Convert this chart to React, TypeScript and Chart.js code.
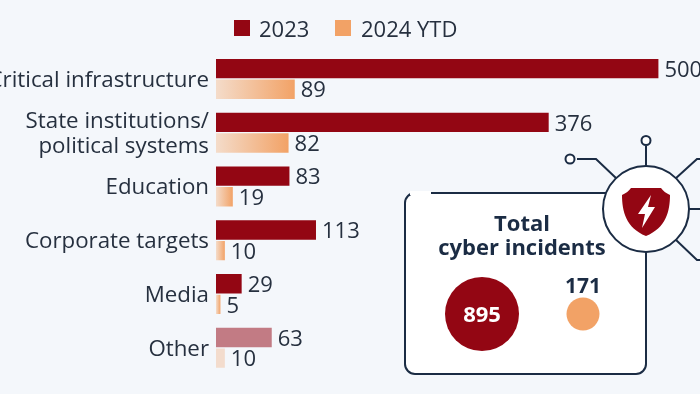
import React, { useEffect, useRef } from "react";
import { Chart, registerables } from "chart.js";

Chart.register(...registerables);

const categories: (string | string[])[] = [
  "Critical infrastructure",
  ["State institutions/", "political systems"],
  "Education",
  "Corporate targets",
  "Media",
  "Other",
];
const values2023 = [500, 376, 83, 113, 29, 63];
const values2024 = [89, 82, 19, 10, 5, 10];
const seriesNames = ["2023", "2024 YTD"];
const totals = [895, 171];

const FONT = '"Open Sans", sans-serif';
const INK = "#26303f";
const NAVY = "#1b2c44";
const RED = "#930613";
const ORANGE = "#f2a266";
const BG = "#f4f7fb";

const barColor2023 = (ctx: any) => (ctx.dataIndex === 5 ? "#c27b84" : RED);
const barColor2024 = (ctx: any) => {
  const { chart, dataIndex, parsed } = ctx;
  if (dataIndex === 5) return "#f3dccd";
  const xs = chart.scales.x;
  if (!xs || !parsed) return ORANGE;
  const x0 = xs.getPixelForValue(0);
  const x1 = xs.getPixelForValue(parsed.x);
  if (!Number.isFinite(x0) || !Number.isFinite(x1)) return ORANGE;
  const g = chart.ctx.createLinearGradient(x0, 0, x1, 0);
  g.addColorStop(0, "#f4dcca");
  g.addColorStop(1, ORANGE);
  return g;
};

const annotate = {
  id: "annotate",
  afterDatasetsDraw(chart: any) {
    const c = chart.ctx;
    c.save();
    c.font = `22px ${FONT}`;
    c.fillStyle = INK;
    c.textAlign = "left";
    c.textBaseline = "middle";
    chart.data.datasets.forEach((ds: any, i: number) => {
      chart.getDatasetMeta(i).data.forEach((bar: any, j: number) => {
        c.fillText(String(ds.data[j]), bar.x + 6, bar.y + 2);
      });
    });
    const boxX = [234, 335];
    const textX = [259, 361];
    chart.data.datasets.forEach((ds: any, i: number) => {
      c.fillStyle = i === 0 ? RED : ORANGE;
      c.fillRect(boxX[i], 20, 16, 16);
      c.fillStyle = INK;
      c.fillText(ds.label, textX[i], 30.5);
    });
    c.restore();
  },
};

export default function App() {
  const ref = useRef<HTMLCanvasElement>(null);
  useEffect(() => {
    document.body.style.margin = "0";
    document.body.style.background = BG;
    const chart = new Chart(ref.current!, {
      type: "bar",
      data: {
        labels: categories as any,
        datasets: [
          { label: seriesNames[0], data: values2023, backgroundColor: barColor2023 },
          { label: seriesNames[1], data: values2024, backgroundColor: barColor2024 },
        ],
      },
      plugins: [annotate],
      options: {
        indexAxis: "y",
        animation: false,
        responsive: false,
        layout: { padding: { top: 52, bottom: 17, left: 0, right: 0 } },
        datasets: { bar: { categoryPercentage: 0.766, barPercentage: 0.94 } },
        plugins: { legend: { display: false }, tooltip: { enabled: false } },
        scales: {
          x: { display: false, min: 0, max: 547 },
          y: {
            afterFit: (s: any) => { s.width = 216; },
            grid: { display: false, drawTicks: false },
            border: { display: false },
            ticks: {
              color: INK,
              padding: 7,
              labelOffset: 1.5,
              autoSkip: false,
              font: { family: "Open Sans", size: 22.3, lineHeight: 1.1 },
            },
          },
        },
      } as any,
    });
    return () => chart.destroy();
  }, []);

  return (
    <div style={{ position: "relative", width: 700, height: 394, overflow: "hidden", background: BG }}>
      <canvas ref={ref} width={700} height={394} style={{ display: "block", position: "absolute", left: 0, top: 0 }} />
      <svg width={700} height={394} style={{ position: "absolute", left: 0, top: 0 }} fontFamily={FONT}>
        <g fill="none" stroke={NAVY} strokeWidth={2}>
          <rect x={405} y={193} width={241} height={181} rx={10} fill="#ffffff" />
          <line x1={410} y1={193} x2={431} y2={193} stroke="#ffffff" strokeWidth={4} />
          <path d="M646 166V146" />
          <circle cx={646} cy={140.5} r={4.5} fill="#ffffff" />
          <path d="M617 179L596 159H577" />
          <circle cx={570} cy={159} r={4.5} fill="#ffffff" />
          <path d="M675 179L697 159H720" />
          <path d="M689 209H720" />
          <path d="M675 239L697 260H720" />
          <circle cx={646} cy={209} r={43} fill="#ffffff" />
        </g>
        <path
          d="M631 188C640 188 652 188 661 188C663 191 666 193 670 195C670 211 666 228 646 236C626 228 622 211 622 195C626 193 629 191 631 188Z"
          fill={RED}
        />
        <path d="M651 195L638 214H645L642 228L655 207H648Z" fill="#ffffff" />
        <g fill={NAVY} fontWeight={700} textAnchor="middle">
          <text x={522} y={231} fontSize={22}>Total</text>
          <text x={522} y={255} fontSize={22}>cyber incidents</text>
          <text x={583} y={293} fontSize={21}>{totals[1]}</text>
        </g>
        <circle cx={482} cy={314} r={37} fill={RED} />
        <text x={482} y={322} fill="#ffffff" fontWeight={700} fontSize={22} textAnchor="middle">{totals[0]}</text>
        <circle cx={583} cy={314} r={16.5} fill={ORANGE} />
      </svg>
    </div>
  );
}
